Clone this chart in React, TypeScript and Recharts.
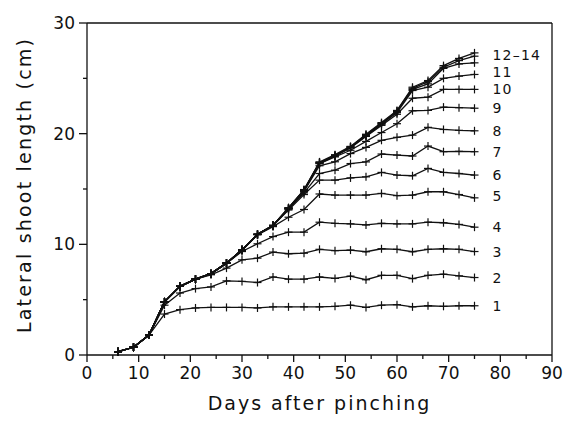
import React from "react";
import { LineChart, Line, XAxis, YAxis, ReferenceLine } from "recharts";

const days = [6, 9, 12, 15, 18, 21, 24, 27, 30, 33, 36, 39, 42, 45, 48, 51, 54, 57, 60, 63, 66, 69, 72, 75];

const s1 = [0.3, 0.7, 1.8, 3.7, 4.1, 4.25, 4.3, 4.3, 4.3, 4.25, 4.35, 4.35, 4.35, 4.35, 4.4, 4.5, 4.3, 4.5, 4.55, 4.35, 4.45, 4.4, 4.45, 4.45];
const s2 = [0.3, 0.7, 1.8, 4.5, 5.6, 6.0, 6.15, 6.7, 6.65, 6.55, 7.05, 6.85, 6.85, 7.05, 6.92, 7.13, 6.8, 7.2, 7.2, 6.9, 7.2, 7.3, 7.15, 7.0];
const s3 = [0.3, 0.7, 1.8, 4.8, 6.2, 6.85, 7.25, 7.85, 8.6, 8.75, 9.3, 9.15, 9.2, 9.55, 9.43, 9.48, 9.33, 9.6, 9.55, 9.33, 9.55, 9.6, 9.55, 9.35];
const s4 = [0.3, 0.7, 1.8, 4.8, 6.2, 6.85, 7.35, 8.3, 9.35, 10.05, 10.7, 11.1, 11.1, 12.0, 11.9, 11.85, 11.75, 11.9, 11.85, 11.85, 12.0, 11.95, 11.8, 11.55];
const s5 = [0.3, 0.7, 1.8, 4.8, 6.2, 6.85, 7.35, 8.3, 9.45, 10.85, 11.6, 12.45, 13.15, 14.55, 14.45, 14.45, 14.45, 14.6, 14.4, 14.45, 14.75, 14.75, 14.5, 14.2];
const s6 = [0.3, 0.7, 1.8, 4.8, 6.2, 6.85, 7.35, 8.3, 9.5, 10.9, 11.7, 13.1, 14.5, 15.8, 15.8, 16.0, 16.1, 16.5, 16.26, 16.2, 16.86, 16.5, 16.4, 16.26];
const s7 = [0.3, 0.7, 1.8, 4.8, 6.2, 6.85, 7.35, 8.3, 9.5, 10.9, 11.7, 13.2, 14.65, 16.4, 16.7, 17.3, 17.45, 18.16, 18.07, 17.98, 18.88, 18.37, 18.4, 18.37];
const s8 = [0.3, 0.7, 1.8, 4.8, 6.2, 6.85, 7.35, 8.3, 9.5, 10.9, 11.7, 13.2, 14.8, 17.1, 17.46, 18.2, 18.76, 19.4, 19.67, 19.87, 20.57, 20.38, 20.3, 20.26];
const s9 = [0.3, 0.7, 1.8, 4.8, 6.2, 6.85, 7.35, 8.3, 9.5, 10.9, 11.7, 13.2, 14.8, 17.3, 17.9, 18.5, 19.3, 20.1, 20.9, 22.07, 22.1, 22.4, 22.35, 22.3];
const s10 = [0.3, 0.7, 1.8, 4.8, 6.2, 6.85, 7.35, 8.3, 9.5, 10.9, 11.7, 13.25, 14.85, 17.3, 18.0, 18.7, 19.75, 20.75, 21.75, 23.2, 23.3, 24.0, 24.0, 24.0];
const s11 = [0.3, 0.7, 1.8, 4.8, 6.2, 6.85, 7.35, 8.3, 9.5, 10.9, 11.7, 13.25, 14.85, 17.35, 18.0, 18.75, 19.8, 20.85, 21.9, 23.9, 24.2, 25.0, 25.2, 25.35];
const s12 = [0.3, 0.7, 1.8, 4.8, 6.2, 6.85, 7.35, 8.3, 9.5, 10.9, 11.7, 13.3, 14.9, 17.4, 18.0, 18.8, 19.85, 20.9, 22.0, 24.0, 24.5, 25.9, 26.3, 26.4];
const s13 = [0.3, 0.7, 1.8, 4.8, 6.2, 6.85, 7.35, 8.3, 9.5, 10.9, 11.7, 13.3, 14.9, 17.4, 18.05, 18.8, 19.9, 20.95, 22.05, 24.1, 24.7, 26.0, 26.6, 27.0];
const s14 = [0.3, 0.7, 1.8, 4.8, 6.2, 6.85, 7.35, 8.3, 9.5, 10.9, 11.7, 13.3, 14.95, 17.45, 18.1, 18.85, 19.95, 21.0, 22.1, 24.2, 24.8, 26.15, 26.8, 27.3];

const series = [s1, s2, s3, s4, s5, s6, s7, s8, s9, s10, s11, s12, s13, s14];
const seriesLabels = ["1", "2", "3", "4", "5", "6", "7", "8", "9", "10", "11", "", "12\u201314", ""];

const xTicks = [0, 5, 10, 15, 20, 25, 30, 35, 40, 45, 50, 55, 60, 65, 70, 75, 80, 85, 90];
const yTicks = [0, 5, 10, 15, 20, 25, 30];

const xTitle = "Days after pinching";
const yTitle = "Lateral shoot length (cm)";

// style: small vertical nudges for end labels that would otherwise collide
const labelNudge: Record<string, number> = { "11": -2.5, "12\u201314": -1.5, "5": -2 };

const rows = days.map((d, i) => {
  const r: Record<string, number> = { day: d };
  series.forEach((s, k) => {
    r["s" + (k + 1)] = s[i];
  });
  return r;
});

const FONT = "'DejaVu Sans', sans-serif";
const INK = "#111";

const XTick = (props: any) => {
  const { x, y, payload } = props;
  const v = payload.value;
  const major = v % 10 === 0;
  return (
    <g>
      <line x1={x} x2={x} y1={y} y2={y + (major ? 7 : 4)} stroke={INK} strokeWidth={1.3} />
      {major && (
        <text x={x} y={y + 18} textAnchor="middle" dominantBaseline="central" fontFamily={FONT} fontSize={17} fill={INK}>
          {v}
        </text>
      )}
    </g>
  );
};

const YTick = (props: any) => {
  const { x, y, payload } = props;
  const v = payload.value;
  const major = v % 10 === 0;
  return (
    <g>
      <line x1={x - (major ? 8 : 4)} x2={x} y1={y} y2={y} stroke={INK} strokeWidth={1.3} />
      {major && (
        <text x={x - 12} y={y} textAnchor="end" dominantBaseline="central" fontFamily={FONT} fontSize={17} fill={INK}>
          {v}
        </text>
      )}
    </g>
  );
};

const makeDot = (label: string) => (props: any) => {
  const { cx, cy, index } = props;
  const a = 4;
  const last = index === days.length - 1;
  const dy = labelNudge[label] || 0;
  return (
    <g key={"d" + index}>
      <line x1={cx - a} x2={cx + a} y1={cy} y2={cy} stroke={INK} strokeWidth={1.2} />
      <line x1={cx} x2={cx} y1={cy - a} y2={cy + a} stroke={INK} strokeWidth={1.2} />
      {last && label && (
        <text x={cx + 18} y={cy + dy} dominantBaseline="central" fontFamily={FONT} fontSize={14} letterSpacing={1.2} fill={INK}>
          {label}
        </text>
      )}
    </g>
  );
};

export default function App() {
  return (
    <div style={{ position: "absolute", left: 0, top: 0, background: "#fff" }}>
      <LineChart width={564} height={424} data={rows} margin={{ top: 23, right: 12, left: 27, bottom: 39 }}>
        <XAxis
          dataKey="day"
          type="number"
          domain={[0, 90]}
          ticks={xTicks}
          interval={0}
          tickSize={0}
          tickMargin={0}
          tickLine={false}
          tick={<XTick />}
          height={30}
          axisLine={{ stroke: INK, strokeWidth: 1.3 }}
          label={{
            content: (p: any) => {
              const vb = p.viewBox;
              return (
                <text x={vb.x + vb.width / 2} y={vb.y + 48} textAnchor="middle" dominantBaseline="central" fontFamily={FONT} fontSize={19} letterSpacing={2} fill={INK}>
                  {xTitle}
                </text>
              );
            },
          }}
        />
        <YAxis
          type="number"
          domain={[0, 30]}
          ticks={yTicks}
          interval={0}
          width={60}
          tickSize={0}
          tickMargin={0}
          tickLine={false}
          tick={<YTick />}
          axisLine={{ stroke: INK, strokeWidth: 1.3 }}
          label={{
            content: (p: any) => {
              const vb = p.viewBox;
              const cx = vb.x - 3;
              const cy = vb.y + vb.height / 2 - 4;
              return (
                <text x={cx} y={cy} transform={`rotate(-90 ${cx} ${cy})`} textAnchor="middle" dominantBaseline="central" fontFamily={FONT} fontSize={19} letterSpacing={2.2} fill={INK}>
                  {yTitle}
                </text>
              );
            },
          }}
        />
        <ReferenceLine y={30} stroke={INK} strokeWidth={1.3} />
        <ReferenceLine x={90} stroke={INK} strokeWidth={1.3} />
        {series.map((_, k) => (
          <Line
            key={"s" + (k + 1)}
            dataKey={"s" + (k + 1)}
            type="linear"
            stroke={INK}
            strokeWidth={1.3}
            dot={makeDot(seriesLabels[k])}
            activeDot={false}
            isAnimationActive={false}
          />
        ))}
      </LineChart>
    </div>
  );
}
